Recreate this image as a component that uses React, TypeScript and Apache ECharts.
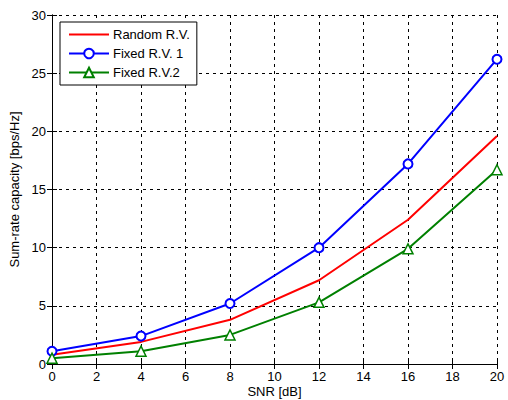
import React, { useEffect, useRef } from "react";
import * as echarts from "echarts";

const snr = [0, 4, 8, 12, 16, 20];
const randomRV = [0.8, 1.9, 3.8, 7.2, 12.4, 19.6];
const fixedRV1 = [1.1, 2.4, 5.2, 10.0, 17.2, 26.2];
const fixedRV2 = [0.5, 1.1, 2.5, 5.3, 9.9, 16.7];
const seriesNames = ["Random R.V.", "Fixed R.V. 1", "Fixed R.V.2"];

const FONT = "Liberation Sans, Arial, sans-serif";

export default function App() {
  const ref = useRef<HTMLDivElement>(null);
  useEffect(() => {
    document.body.style.margin = "0";
    const chart = echarts.init(ref.current!, null, { renderer: "svg" });
    const pair = (ys: number[]) => snr.map((x, i) => [x, ys[i]]);
    const gridLine = { show: true, lineStyle: { color: "#000", type: [3, 4] as any, width: 1 } };
    chart.setOption({
      animation: false,
      backgroundColor: "#fff",
      textStyle: { fontFamily: FONT },
      grid: { left: 52, right: 11, top: 15, bottom: 36, outerBoundsMode: "none", containLabel: false },
      legend: {
        orient: "vertical",
        left: 60,
        top: 22,
        padding: [6, 7, 6, 8],
        itemGap: 6,
        itemWidth: 40,
        itemHeight: 12,
        borderColor: "#000",
        borderWidth: 1,
        backgroundColor: "#fff",
        textStyle: { fontSize: 13, color: "#000", fontFamily: FONT, padding: [0, 0, 0, -1] },
        data: [
          { name: seriesNames[0], itemStyle: { opacity: 0 } },
          { name: seriesNames[1] },
          { name: seriesNames[2] },
        ],
      },
      xAxis: [
        {
          type: "value",
          min: 0,
          max: 20,
          interval: 2,
          name: "SNR [dB]",
          nameLocation: "middle",
          nameGap: 21,
          nameMoveOverlap: false,
          nameTextStyle: { fontSize: 13, color: "#000", fontFamily: FONT, verticalAlign: "top" },
          axisLine: { show: true, lineStyle: { color: "#000", width: 1 } },
          axisTick: { show: true, inside: true, length: 5, lineStyle: { color: "#000" } },
          axisLabel: { color: "#000", fontSize: 13, margin: 6, fontFamily: FONT },
          splitLine: gridLine,
        },
        {
          type: "value",
          position: "top",
          min: 0,
          max: 20,
          interval: 2,
          axisLine: { show: true, lineStyle: { color: "#000", width: 1 } },
          axisTick: { show: true, inside: true, length: 5, lineStyle: { color: "#000" } },
          axisLabel: { show: false },
          splitLine: { show: false },
        },
      ],
      yAxis: [
        {
          type: "value",
          min: 0,
          max: 30,
          interval: 5,
          name: "Sum-rate capacity [bps/Hz]",
          nameLocation: "middle",
          nameGap: 31,
          nameMoveOverlap: false,
          nameTextStyle: { fontSize: 13, color: "#000", fontFamily: FONT },
          axisLine: { show: true, lineStyle: { color: "#000", width: 1 } },
          axisTick: { show: true, inside: true, length: 5, lineStyle: { color: "#000" } },
          axisLabel: { color: "#000", fontSize: 13, margin: 6, fontFamily: FONT },
          splitLine: gridLine,
        },
        {
          type: "value",
          position: "right",
          min: 0,
          max: 30,
          interval: 5,
          axisLine: { show: true, lineStyle: { color: "#000", width: 1 } },
          axisTick: { show: true, inside: true, length: 5, lineStyle: { color: "#000" } },
          axisLabel: { show: false },
          splitLine: { show: false },
        },
      ],
      series: [
        {
          name: seriesNames[0],
          type: "line",
          data: pair(randomRV),
          symbol: "none",
          lineStyle: { color: "#ff0000", width: 2 },
          itemStyle: { color: "#ff0000" },
        },
        {
          name: seriesNames[1],
          type: "line",
          data: pair(fixedRV1),
          symbol: "circle",
          symbolSize: 9,
          lineStyle: { color: "#0000ff", width: 2 },
          itemStyle: { color: "#fff", borderColor: "#0000ff", borderWidth: 2 },
        },
        {
          name: seriesNames[2],
          type: "line",
          data: pair(fixedRV2),
          symbol: "triangle",
          symbolSize: 10,
          lineStyle: { color: "#008000", width: 2 },
          itemStyle: { color: "#fff", borderColor: "#008000", borderWidth: 1.5 },
        },
      ],
    });
    return () => chart.dispose();
  }, []);
  return <div ref={ref} style={{ width: 508, height: 400 }} />;
}
